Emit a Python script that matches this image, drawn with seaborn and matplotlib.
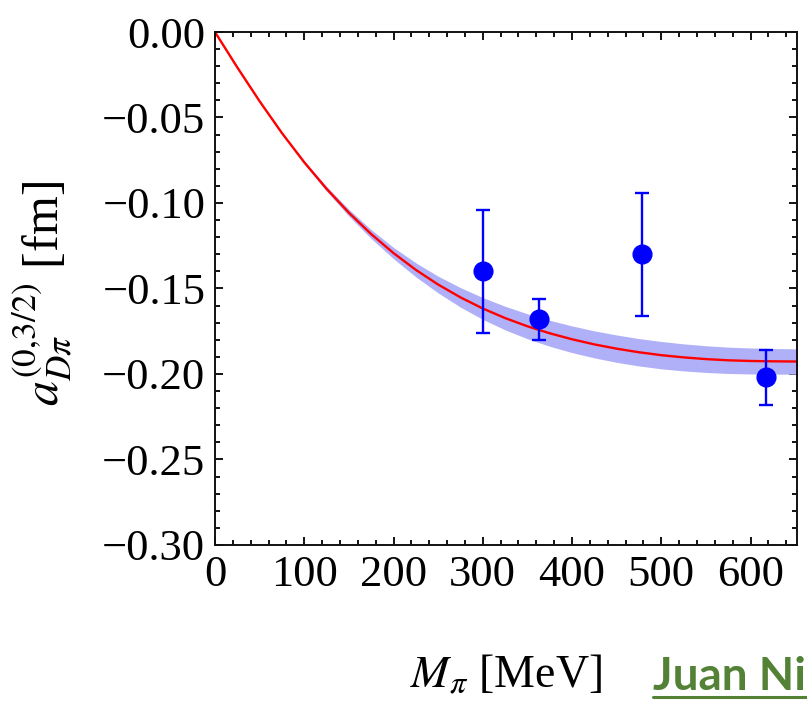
import numpy as np
import pandas as pd
import matplotlib
matplotlib.use("Agg")
import matplotlib.pyplot as plt
from matplotlib.ticker import MultipleLocator, FuncFormatter
from matplotlib.lines import Line2D
import seaborn as sns

# Lattice points: pion mass [MeV], scattering length [fm], error [fm]
lat_mpi = [300, 363, 478, 617]
lat_a = [-0.140, -0.168, -0.130, -0.202]
lat_err = [0.036, 0.012, 0.036, 0.016]

# Chiral fit curve and its error band half-width
fit_mpi = [0, 25, 50, 75, 100, 125, 150, 175, 200, 225, 250, 275, 300, 325,
           350, 375, 400, 425, 450, 475, 500, 525, 550, 575, 600, 625, 650, 675]
fit_a = [0.0, -0.0207, -0.0405, -0.0591, -0.0762, -0.0917, -0.1057, -0.1182,
         -0.1293, -0.1391, -0.1477, -0.1552, -0.1617, -0.1673, -0.1721, -0.1762,
         -0.1797, -0.1827, -0.1852, -0.1873, -0.1890, -0.1903, -0.1913, -0.1920,
         -0.1924, -0.1926, -0.1927, -0.1927]
fit_band = [0.0, 0.0001, 0.0002, 0.0005, 0.0009, 0.0014, 0.0020, 0.0026,
            0.0033, 0.0041, 0.0049, 0.0057, 0.0064, 0.0069, 0.0073, 0.0076,
            0.0078, 0.0079, 0.0080, 0.0080, 0.0080, 0.0079, 0.0078, 0.0077,
            0.0076, 0.0075, 0.0074, 0.0073]

xticks = [0, 100, 200, 300, 400, 500, 600]
yticks = [0.00, -0.05, -0.10, -0.15, -0.20, -0.25, -0.30]

fit = pd.DataFrame({"mpi": fit_mpi, "a": fit_a, "da": fit_band})
lat = pd.DataFrame({"mpi": lat_mpi, "a": lat_a, "err": lat_err})

sns.set_theme(style="ticks")
plt.rcParams["font.family"] = ["Liberation Serif", "DejaVu Serif"]
plt.rcParams["mathtext.fontset"] = "stix"
plt.rcParams["text.color"] = "black"
plt.rcParams["axes.labelcolor"] = "black"
plt.rcParams["xtick.color"] = "black"
plt.rcParams["ytick.color"] = "black"

fig = plt.figure(figsize=(8.07, 7.05), dpi=100)
ax = fig.add_axes([0.2664, 0.2270, 0.7212, 0.7276])

ax.fill_between(fit["mpi"], fit["a"] - fit["da"], fit["a"] + fit["da"],
                color="#b0b0f8", linewidth=0, zorder=1)
sns.lineplot(data=fit, x="mpi", y="a", color="#ff0000", linewidth=1.7,
             ax=ax, zorder=2)
ax.errorbar(lat["mpi"], lat["a"], yerr=lat["err"], fmt="o", color="#0000ff",
            markersize=13.5, elinewidth=1.7, capsize=5, capthick=1.7, zorder=3)

ax.set_xlim(0, 652)
ax.set_ylim(-0.30, 0.0)
ax.set_xticks(xticks)
ax.set_yticks(yticks)
ax.xaxis.set_minor_locator(MultipleLocator(20))
ax.yaxis.set_minor_locator(MultipleLocator(0.01))
ax.yaxis.set_major_formatter(
    FuncFormatter(lambda v, p: "0.00" if abs(v) < 1e-9 else f"{v:.2f}".replace("-", "\u2212")))

ax.tick_params(which="both", direction="in", top=True, right=True, color="black",
               width=1.3)
ax.tick_params(which="major", length=6, labelsize=32, pad=7)
ax.tick_params(which="minor", length=3.5)
for s in ax.spines.values():
    s.set_linewidth(1.4)
    s.set_color("#111111")

ax.set_xlabel(r"$M_\pi$ [MeV]", fontsize=33)
ax.set_ylabel(r"$a_{D\pi}^{(0,\!3/2)}$ [fm]", fontsize=36)
ax.xaxis.set_label_coords(0.5, -0.212)
ax.yaxis.set_label_coords(-0.24, 0.49)

# author credit, underlined
fig.text(653 / 807, 1 - 690 / 705, "Juan Nieves", color="#538135",
         fontsize=33, fontweight="bold", family=["Lato", "DejaVu Sans"],
         va="baseline", ha="left")
fig.add_artist(Line2D([653 / 807, 1.0], [1 - 697 / 705, 1 - 697 / 705],
                      transform=fig.transFigure, color="#538135", linewidth=2.2))

fig.savefig("out.png", dpi=100)
